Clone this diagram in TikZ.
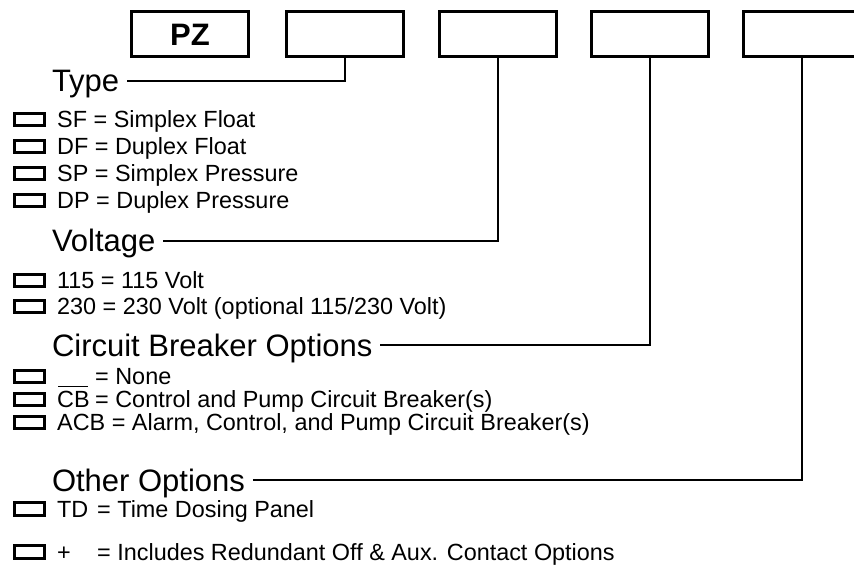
\documentclass[tikz,border=0pt]{standalone}
\usepackage{fontspec}
\setmainfont{Liberation Sans}
\tikzset{
	codebox/.style = {draw, line width=3pt, minimum width=117pt, minimum height=45pt, inner sep=0pt},
	heading/.style = {anchor=base west, inner sep=0pt, outer xsep=8pt, font=\fontsize{31}{31}\selectfont, text height=22pt, text depth=0pt},
	tickbox/.style = {draw, line width=3pt, minimum width=30pt, minimum height=12pt, inner sep=0pt},
	item/.style = {anchor=base west, inner sep=0pt, font=\fontsize{23.4}{23.4}\selectfont},
	link/.style = {line width=2.5pt}
}
\begin{document}
\begin{tikzpicture}[x=1pt, y=-1pt]
	\clip (0,0) rectangle (854,569);
	
	\node [codebox, font=\bfseries\fontsize{31}{31}\selectfont] (b1) at (190, 34.5) {PZ};
	\node [codebox] (b2) at (345, 34.5) {};
	\node [codebox] (b3) at (498, 34.5) {};
	\node [codebox] (b4) at (650, 34.5) {};
	\node [codebox] (b5) at (802, 34.5) {};
	
	\node [heading] (type) at (44, 92) {Type};
	\node [heading] (volt) at (44, 252) {Voltage};
	\node [heading] (brk) at (44, 356) {Circuit Breaker Options};
	\node [heading] (other) at (44, 491) {Other Options};
	
	\draw [link] (type.east) -| (b2.south);
	\draw [link] (volt.east) -| (b3.south);
	\draw [link] (brk.east) -| (b4.south);
	\draw [link] (other.east) -| (b5.south);
	
	\node [tickbox] (tsf) at (29, 120) {};
	\node [tickbox] (tdf) at (29, 147) {};
	\node [tickbox] (tsp) at (29, 174) {};
	\node [tickbox] (tdp) at (29, 201) {};
	\node [item] (sf) at (57, 128) {SF = Simplex Float};
	\node [item] (df) at (57, 155) {DF = Duplex Float};
	\node [item] (sp) at (57, 182) {SP = Simplex Pressure};
	\node [item] (dp) at (57, 209) {DP = Duplex Pressure};
	
	\node [tickbox] (t115) at (29, 281) {};
	\node [tickbox] (t230) at (29, 307) {};
	\node [item] (v115) at (57, 289) {115 = 115 Volt};
	\node [item] (v230) at (57, 315) {230 = 230 Volt (optional 115/230 Volt)};
	
	\node [tickbox] (tnone) at (29, 376) {};
	\node [tickbox] (tcb) at (29, 399) {};
	\node [tickbox] (tacb) at (29, 422) {};
	\node [item] (none) at (58, 384) {\rule[-3pt]{30pt}{1.3pt}};
	\node [item] (nonetxt) at (95, 384) {= None};
	\node [item] (cb) at (57, 407) {CB};
	\node [item] (cbtxt) at (95, 407) {= Control and Pump Circuit Breaker(s)};
	\node [item] (acb) at (57, 430) {ACB = Alarm, Control, and Pump Circuit Breaker(s)};
	
	\node [tickbox, minimum height=13pt] (ttd) at (29, 509) {};
	\node [tickbox, minimum height=13pt] (tplus) at (29, 552) {};
	\node [item] (td) at (57, 517) {TD};
	\node [item] (tdtxt) at (97, 517) {= Time Dosing Panel};
	\node [item] (plus) at (57, 560) {+};
	\node [item] (plustxt) at (97, 560) {= Includes Redundant Off \& Aux. Contact Options};
	
\end{tikzpicture}
\end{document}
